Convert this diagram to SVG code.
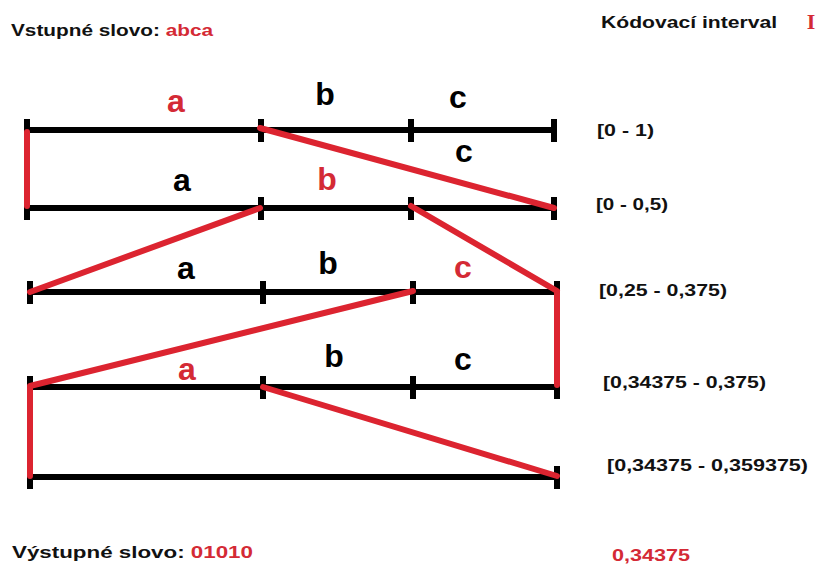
<svg xmlns="http://www.w3.org/2000/svg" width="819" height="570" viewBox="0 0 819 570">
<style>
.ln{stroke:#000;stroke-width:6;fill:none}
.tk{stroke:#000;stroke-width:6;fill:none}
.rd{stroke:#dc2430;stroke-width:6;fill:none;stroke-linecap:round}
.sym{font-family:"Liberation Sans",Arial,sans-serif;font-weight:bold;font-size:32px;text-anchor:middle;fill:#000}
.lbl{font-family:"Liberation Sans",Arial,sans-serif;font-weight:bold;font-size:16px;fill:#111}
.red{fill:#d42a35}
</style>
<rect width="819" height="570" fill="#fff"/>
<g id="header">
<text class="lbl" x="11" y="36" font-size="18" textLength="202" lengthAdjust="spacingAndGlyphs">Vstupné slovo: <tspan class="red">abca</tspan></text>
<text class="lbl" x="601" y="28" font-size="18" textLength="176" lengthAdjust="spacingAndGlyphs">Kódovací interval</text>
<text x="811" y="29" font-family="Liberation Serif,serif" font-weight="bold" font-size="22" fill="#d42a35" text-anchor="middle">I</text>
</g>
<g id="interval1">
<line class="ln" x1="27" y1="130" x2="555" y2="130"/>
<path class="tk" d="M27 119V142M261 119V142M411 119V142M554 119V142"/>
<text class="sym red" x="176" y="112">a</text>
<text class="sym" x="325" y="105">b</text>
<text class="sym" x="458" y="108">c</text>
<text class="lbl" x="597" y="136" textLength="57" lengthAdjust="spacingAndGlyphs">[0 - 1)</text>
</g>
<g id="interval2">
<line class="ln" x1="27" y1="208" x2="555" y2="208"/>
<path class="tk" d="M27 197V220M261 197V220M411 197V220M554 197V220"/>
<text class="sym" x="182" y="191">a</text>
<text class="sym red" x="327" y="190">b</text>
<text class="sym" x="464" y="162">c</text>
<text class="lbl" x="596" y="210" textLength="72" lengthAdjust="spacingAndGlyphs">[0 - 0,5)</text>
</g>
<g id="interval3">
<line class="ln" x1="30" y1="292" x2="557" y2="292"/>
<path class="tk" d="M30 281V304M263 281V304M413 281V304M557 281V304"/>
<text class="sym" x="186" y="279">a</text>
<text class="sym" x="328" y="274">b</text>
<text class="sym red" x="463" y="278">c</text>
<text class="lbl" x="599" y="296" textLength="128" lengthAdjust="spacingAndGlyphs">[0,25 - 0,375)</text>
</g>
<g id="interval4">
<line class="ln" x1="30" y1="387" x2="557" y2="387"/>
<path class="tk" d="M30 376V399M263 376V399M413 376V399M557 376V399"/>
<text class="sym red" x="187" y="380">a</text>
<text class="sym" x="334" y="367">b</text>
<text class="sym" x="463" y="370">c</text>
<text class="lbl" x="603" y="388" textLength="163" lengthAdjust="spacingAndGlyphs">[0,34375 - 0,375)</text>
</g>
<g id="interval5">
<line class="ln" x1="30" y1="477" x2="557" y2="477"/>
<path class="tk" d="M30 466V489M557 466V489"/>
<text class="lbl" x="607" y="471" textLength="201" lengthAdjust="spacingAndGlyphs">[0,34375 - 0,359375)</text>
</g>
<g id="connectors">
<line class="rd" x1="27" y1="132" x2="27" y2="206"/>
<line class="rd" x1="260" y1="128" x2="554" y2="208"/>
<line class="rd" x1="30" y1="292" x2="260" y2="208"/>
<line class="rd" x1="411" y1="206" x2="557" y2="291"/>
<line class="rd" x1="30" y1="386" x2="413" y2="291"/>
<line class="rd" x1="557" y1="293" x2="557" y2="385"/>
<line class="rd" x1="263" y1="387" x2="557" y2="476"/>
<line class="rd" x1="30" y1="388" x2="30" y2="476"/>
</g>
<g id="footer">
<text class="lbl" x="12" y="558" font-size="18" textLength="241" lengthAdjust="spacingAndGlyphs">Výstupné slovo: <tspan class="red">01010</tspan></text>
<text class="lbl red" x="612" y="561" font-size="18" textLength="78" lengthAdjust="spacingAndGlyphs">0,34375</text>
</g>
</svg>
